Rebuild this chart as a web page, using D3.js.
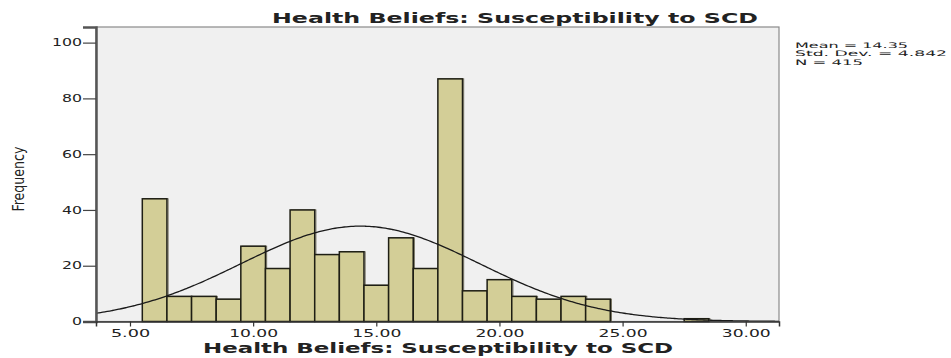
<!DOCTYPE html>
<html>
<head>
<meta charset="utf-8">
<script src="https://cdn.jsdelivr.net/npm/d3@7"></script>
<style>
  html, body { margin: 0; padding: 0; background: #ffffff; }
  svg { display: block; }
  text { font-family: "DejaVu Sans", Verdana, sans-serif; fill: #222; }
</style>
</head>
<body>
<svg id="chart" width="951" height="358"></svg>
<script>
// Histogram of scores (bins of width 1, centred on whole values)
const binCenters  = [6, 7, 8, 9, 10, 11, 12, 13, 14, 15, 16, 17, 18, 19, 20, 21, 22, 23, 24, 28];
const frequencies = [44, 9, 9, 8, 27, 19, 40, 24, 25, 13, 30, 19, 87, 11, 15, 9, 8, 9, 8, 1];
const binWidth = 1;

// Summary statistics shown beside the plot
const meanValue = 14.35;
const stdDev = 4.842;
const nCases = 415;

const xTicks = [5, 10, 15, 20, 25, 30];
const yTicks = [0, 20, 40, 60, 80, 100];

const titleText = "Health Beliefs: Susceptibility to SCD";
const xLabel = "Health Beliefs: Susceptibility to SCD";
const yLabel = "Frequency";
const statLines = ["Mean = 14.35", "Std. Dev. = 4.842", "N = 415"];

const svg = d3.select("#chart");
const plot = { left: 96, right: 779, top: 27, bottom: 321.5 };

const x = d3.scaleLinear().domain([3.62, 31.35]).range([plot.left, plot.right]);
const y = d3.scaleLinear().domain([0, 105.6]).range([plot.bottom, plot.top]);

// plot background
svg.append("rect")
  .attr("x", plot.left).attr("y", plot.top)
  .attr("width", plot.right - plot.left).attr("height", plot.bottom - plot.top)
  .attr("fill", "#f0f0f0")
  .attr("stroke", "#8a8a8a").attr("stroke-width", 1.2);

svg.append("clipPath").attr("id", "plotClip")
  .append("rect")
  .attr("x", plot.left).attr("y", plot.top)
  .attr("width", plot.right - plot.left).attr("height", plot.bottom - plot.top);

// bars
const bars = binCenters.map((c, i) => ({ x0: c - binWidth / 2, x1: c + binWidth / 2, v: frequencies[i] }));
svg.append("g").selectAll("rect.shadow").data(bars).join("rect")
  .attr("x", d => x(d.x0) + 1.2)
  .attr("y", d => y(d.v))
  .attr("width", d => x(d.x1) - x(d.x0))
  .attr("height", d => y(0) - y(d.v))
  .attr("fill", "none")
  .attr("stroke", "#7a7766").attr("stroke-width", 1);
svg.append("g").selectAll("rect.bar").data(bars).join("rect")
  .attr("x", d => x(d.x0))
  .attr("y", d => y(d.v))
  .attr("width", d => x(d.x1) - x(d.x0))
  .attr("height", d => y(0) - y(d.v))
  .attr("fill", "#d3ce97")
  .attr("stroke", "#1e1e14").attr("stroke-width", 1.5);

// fitted normal curve: N * binWidth * pdf(x)
const pdf = v => Math.exp(-((v - meanValue) ** 2) / (2 * stdDev * stdDev)) / (stdDev * Math.sqrt(2 * Math.PI));
const xs = d3.range(0, 301).map(i => x.domain()[0] + (x.domain()[1] - x.domain()[0]) * i / 300);
svg.append("path")
  .datum(xs)
  .attr("clip-path", "url(#plotClip)")
  .attr("fill", "none")
  .attr("stroke", "#1a1a1a").attr("stroke-width", 1.3)
  .attr("d", d3.line().x(d => x(d)).y(d => y(nCases * binWidth * pdf(d))).curve(d3.curveBasis));

// y axis
const yAxis = svg.append("g").attr("transform", `translate(${plot.left},0)`)
  .call(d3.axisLeft(y).tickValues(yTicks).tickSize(13).tickPadding(1).tickFormat(d3.format("d")));
yAxis.select(".domain").attr("stroke", "#555").attr("stroke-width", 2.5);
yAxis.selectAll(".tick line").attr("stroke", "#444").attr("stroke-width", 1.2);
yAxis.selectAll(".tick text")
  .attr("font-size", 10).attr("fill", "#444")
  .attr("textLength", d => String(d).length * 10)
  .attr("lengthAdjust", "spacingAndGlyphs");

// x axis
const xAxis = svg.append("g").attr("transform", `translate(0,${plot.bottom})`)
  .call(d3.axisBottom(x).tickValues(xTicks).tickSize(5).tickPadding(3).tickFormat(d3.format(".2f")));
xAxis.select(".domain").attr("stroke", "#333").attr("stroke-width", 1.5);
xAxis.selectAll(".tick line").attr("stroke", "#333").attr("stroke-width", 1.2);
xAxis.selectAll(".tick text")
  .attr("font-size", 10).attr("fill", "#444")
  .attr("textLength", d => d3.format(".2f")(d).length * 9.8)
  .attr("lengthAdjust", "spacingAndGlyphs");

// title
svg.append("text")
  .attr("x", 515).attr("y", 23)
  .attr("text-anchor", "middle")
  .attr("font-size", 14).attr("font-weight", "bold")
  .attr("textLength", 486).attr("lengthAdjust", "spacingAndGlyphs")
  .text(titleText);

// x axis label
svg.append("text")
  .attr("x", 438).attr("y", 352.5)
  .attr("text-anchor", "middle")
  .attr("font-size", 13.5).attr("font-weight", "bold")
  .attr("textLength", 470).attr("lengthAdjust", "spacingAndGlyphs")
  .text(xLabel);

// y axis label (narrow face, compressed to fit)
svg.append("text")
  .attr("transform", "translate(23.5,179) rotate(-90)")
  .attr("text-anchor", "middle")
  .attr("font-size", 15.5)
  .attr("fill", "#1a1a1a")
  .style("font-family", "'DejaVu Sans Condensed', 'DejaVu Sans', sans-serif")
  .attr("textLength", 65).attr("lengthAdjust", "spacingAndGlyphs")
  .text(yLabel);

// statistics block
const statWidths = [113, 152, 68];
svg.append("g").selectAll("text").data(statLines).join("text")
  .attr("x", 795)
  .attr("y", (d, i) => 47.8 + i * 8.6)
  .attr("font-size", 7.6).attr("fill", "#333")
  .attr("textLength", (d, i) => statWidths[i])
  .attr("lengthAdjust", "spacingAndGlyphs")
  .text(d => d);
</script>
</body>
</html>
